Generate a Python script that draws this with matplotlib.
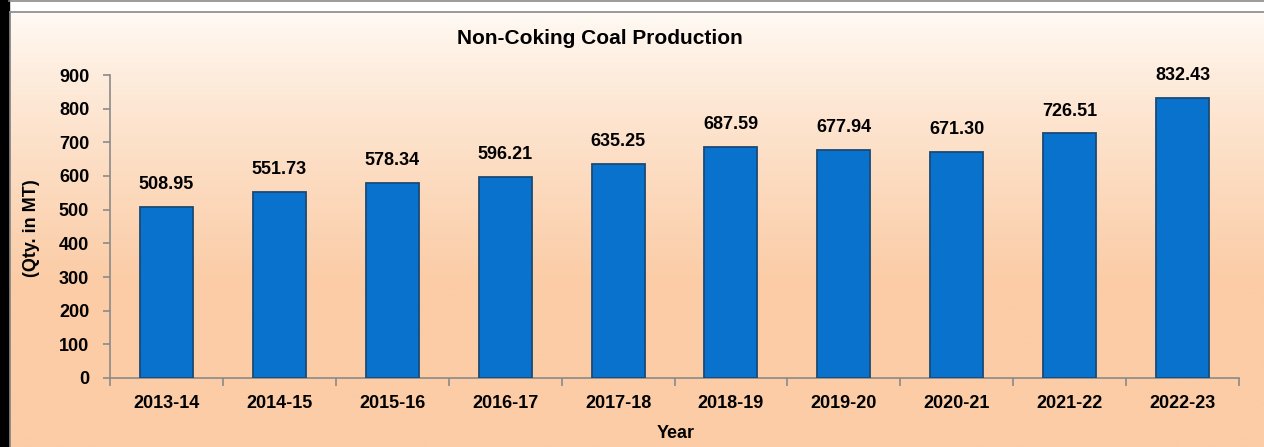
import numpy as np
import matplotlib.pyplot as plt
from matplotlib.patches import Rectangle

years = ['2013-14', '2014-15', '2015-16', '2016-17', '2017-18',
         '2018-19', '2019-20', '2020-21', '2021-22', '2022-23']
production = [508.95, 551.73, 578.34, 596.21, 635.25,
              687.59, 677.94, 671.30, 726.51, 832.43]

plt.rcParams['font.family'] = ['Liberation Sans Narrow', 'Liberation Sans', 'DejaVu Sans']
plt.rcParams['font.weight'] = 'bold'

W, H = 1264, 447
fig = plt.figure(figsize=(W / 100, H / 100), dpi=100)
fig.patch.set_facecolor('white')

# background: gradient panel, black left edge, white top strip
bg = fig.add_axes([0, 0, 1, 1], zorder=-10)
bg.set_xlim(0, W)
bg.set_ylim(H, 0)
bg.axis('off')
top = np.array([1.0, 0.985, 0.965])
bot = np.array([0.985, 0.80, 0.65])
t = np.linspace(0, 1, 256)[:, None]
t = np.clip(t * 1.6, 0, 1) ** 0.8
grad = top + (bot - top) * t
grad = grad[:, None, :].repeat(2, axis=1)
bg.imshow(grad, extent=[10, W, H, 12], aspect='auto', zorder=0)
bg.add_patch(Rectangle((0, 0), 9, H, color='black', zorder=2))
bg.plot([9, W], [1, 1], color='#8a8a8a', lw=1.2, zorder=3)
bg.plot([10, W], [12, 12], color='#8a8a8a', lw=1.2, zorder=3)
bg.plot([10, 10], [12, H], color='#8a8a8a', lw=1.2, zorder=3)

ax = fig.add_axes([110 / W, 1 - 378 / H, (1239 - 110) / W, (378 - 75) / H])
ax.patch.set_alpha(0)
x = np.arange(len(years))
bars = ax.bar(x, production, width=0.47, color='#0872CC', edgecolor='#1A4A75', linewidth=1.3, zorder=3)
for xi, v in zip(x, production):
    ax.annotate(f'{v:.2f}', (xi, v), xytext=(0, 10), textcoords='offset points',
                ha='center', va='bottom', fontsize=13, fontweight='bold')

ax.set_xlim(-0.5, len(years) - 0.5)
ax.set_ylim(0, 900)
ax.set_yticks(range(0, 901, 100))
ax.set_xticks(x)
ax.set_xticklabels(years)
ax.set_xticks(np.arange(-0.5, len(years)), minor=True)
ax.tick_params(axis='x', which='major', length=0, pad=12, labelsize=13)
ax.tick_params(axis='x', which='minor', length=6, color='#8a8a8a', width=1.2)
ax.tick_params(axis='y', length=5, color='#8a8a8a', width=1.2, pad=10, labelsize=13)
for s in ['top', 'right']:
    ax.spines[s].set_visible(False)
for s in ['left', 'bottom']:
    ax.spines[s].set_color('#8a8a8a')
    ax.spines[s].set_linewidth(1.2)

fig.text(600 / W, 1 - 38 / H, 'Non-Coking Coal Production', ha='center', va='center',
         fontsize=15, fontweight='bold')
fig.text(676 / W, 1 - 434 / H, 'Year', ha='center', va='center', fontsize=13, fontweight='bold')
fig.text(32 / W, 1 - 228 / H, '(Qty. in MT)', ha='center', va='center', rotation=90,
         fontsize=13, fontweight='bold')

fig.savefig('out.png', dpi=100)
